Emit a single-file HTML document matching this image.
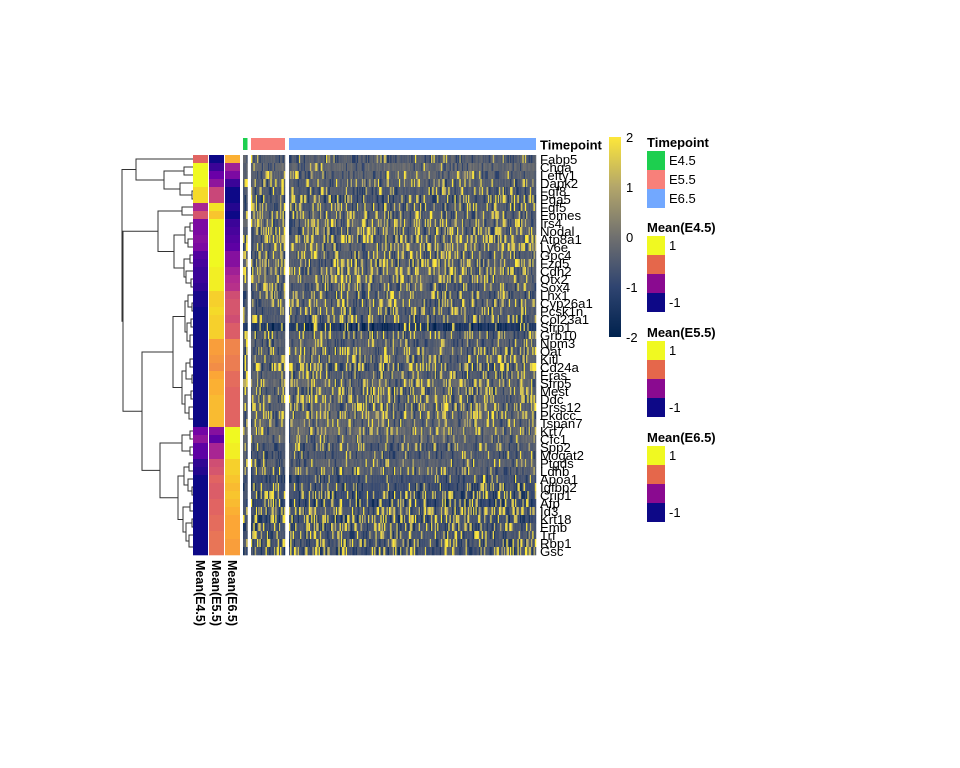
<!DOCTYPE html>
<html><head><meta charset="utf-8">
<style>
html,body{margin:0;padding:0;background:#fff;}
svg{display:block;font-family:"Liberation Sans",Arial,sans-serif;}
</style></head>
<body>
<svg id="chart" width="960" height="768" viewBox="0 0 960 768" xmlns="http://www.w3.org/2000/svg">
<g id="dendro"></g>
<g id="means"></g>
<g id="topbar"></g>
<g id="cells"></g>
<g id="genes"></g>
<text x="540" y="149.5" font-size="13" font-weight="bold">Timepoint</text>
<g font-size="12.5" font-weight="bold">
<text transform="translate(196,560) rotate(90)">Mean(E4.5)</text>
<text transform="translate(212,560) rotate(90)">Mean(E5.5)</text>
<text transform="translate(228,560) rotate(90)">Mean(E6.5)</text>
</g>
<defs><linearGradient id="cbar" x1="0" y1="1" x2="0" y2="0">
<stop offset="0" stop-color="#00224E"/><stop offset="0.25" stop-color="#2F4470"/><stop offset="0.5" stop-color="#70706F"/><stop offset="0.75" stop-color="#B3A66A"/><stop offset="1" stop-color="#FDE73A"/></linearGradient></defs>
<g font-size="13">
<rect x="609" y="137" width="12" height="200" fill="url(#cbar)"/>
<text x="626" y="142">2</text><text x="626" y="192">1</text><text x="626" y="242">0</text><text x="626" y="292">-1</text><text x="626" y="342">-2</text>
</g>
<g font-size="13">
<text x="647" y="147" font-weight="bold">Timepoint</text>
<rect x="647" y="151" width="18" height="19" fill="#1DCF4F"/>
<rect x="647" y="170" width="18" height="19" fill="#F8807A"/>
<rect x="647" y="189" width="18" height="19" fill="#72A8FF"/>
<text x="669" y="165">E4.5</text><text x="669" y="184">E5.5</text><text x="669" y="203">E6.5</text>
</g>
<g id="meanlegends"></g>
</svg>
<script>
// ---- data ----
const genes = ["Fabp5","Chga","Lefty1","Dapk2","Fgf8","Pga5","Fgf5","Eomes","Irs4","Nodal","Atp8a1","Ly6e","Gpc4","Fzd5","Cdh2","Otx2","Sox4","Lhx1","Cyp26a1","Pcsk1n","Col23a1","Sfrp1","Grb10","Npm3","Oat","Kitl","Cd24a","Eras","Sfrp5","Mest","Ddc","Prss12","Pkdcc","Tspan7","Krt7","Cfc1","Spp2","Mogat2","Ptgds","Ldhb","Apoa1","Igfbp2","Crip1","Afp","Id3","Krt18","Emb","Trf","Rbp1","Gsc"];
const meanE45 = [0.2,1,1,1,0.85,0.85,-0.25,0.1,-0.5,-0.5,-0.45,-0.5,-0.7,-0.75,-0.8,-0.8,-0.85,-0.95,-0.95,-1,-1,-1,-1,-1,-1,-1,-1,-1,-1,-1,-1,-1,-1,-1,-0.55,-0.4,-0.65,-0.65,-0.85,-0.9,-1,-1,-1,-1,-1,-1,-1,-1,-1,-1];
const meanE55 = [-1,-0.8,-0.6,-0.4,0.0,0.0,0.9,0.75,1,1,1,1,1,1,0.95,0.95,0.95,0.8,0.8,0.85,0.8,0.8,0.8,0.55,0.55,0.5,0.45,0.6,0.65,0.65,0.7,0.7,0.7,0.7,-0.45,-0.65,-0.25,-0.25,0.05,0.1,0.2,0.15,0.15,0.2,0.2,0.25,0.25,0.3,0.3,0.3];
const meanE65 = [0.65,-0.3,-0.5,-0.8,-1,-1,-0.9,-1,-0.8,-0.75,-0.7,-0.65,-0.45,-0.45,-0.3,-0.2,-0.15,0.05,0.1,0.1,0.05,0.15,0.15,0.4,0.4,0.35,0.35,0.25,0.25,0.2,0.2,0.2,0.2,0.2,1,1,0.95,0.95,0.8,0.8,0.75,0.7,0.75,0.7,0.65,0.6,0.6,0.6,0.55,0.55];
// per-row background expression level and fraction of high (yellow) cells, read approximately
const rowBase = [-0.4,-0.2,-0.3,-0.4,-0.5,-0.6,-0.5,-0.4,-0.3,-0.4,-0.4,-0.3,-0.4,-0.4,-0.3,-0.3,-0.4,-0.5,-0.4,-0.5,-0.5,-1.3,-0.5,-0.4,-0.4,-0.4,-0.5,-0.4,-0.3,-0.4,-0.4,-0.4,-0.3,-0.3,-0.2,-0.3,-0.5,-0.5,-0.4,-0.4,-0.7,-0.7,-0.8,-0.9,-0.5,-0.8,-0.6,-0.6,-0.6,-0.7];
const rowHigh = [0.1,0.05,0.1,0.15,0.15,0.2,0.15,0.25,0.25,0.3,0.3,0.25,0.25,0.3,0.3,0.25,0.2,0.2,0.25,0.2,0.2,0.15,0.2,0.15,0.2,0.2,0.3,0.2,0.25,0.3,0.25,0.25,0.3,0.2,0.15,0.1,0.15,0.1,0.15,0.15,0.1,0.2,0.25,0.15,0.3,0.3,0.25,0.2,0.25,0.2];
const sliceNames = ["E4.5","E5.5","E6.5"];
const sliceCols = [3,28,200];
// ---- layout ----
const NS="http://www.w3.org/2000/svg";
const top0=155, rowH=8;
const rowY = i => top0 + i*rowH;
function mk(tag,attrs,parent){const e=document.createElementNS(NS,tag);for(const k in attrs)e.setAttribute(k,attrs[k]);parent.appendChild(e);return e;}
function lerpHex(a,b,t){const pa=[1,3,5].map(i=>parseInt(a.substr(i,2),16)),pb=[1,3,5].map(i=>parseInt(b.substr(i,2),16));return "rgb("+pa.map((v,i)=>Math.round(v+(pb[i]-v)*t)).join(",")+")";}
function ramp(v,stops,cols){if(v<=stops[0])return cols[0];for(let i=1;i<stops.length;i++){if(v<=stops[i])return lerpHex(cols[i-1],cols[i],(v-stops[i-1])/(stops[i]-stops[i-1]));}return cols[cols.length-1];}
const meanColor = v=>ramp(v,[-1,-0.6,-0.2,0.2,0.6,1],["#0D0887","#6A00A8","#B12A90","#E16462","#FCA636","#F0F921"]);
const exprColor = v=>ramp(v,[-2,-1,0,1,2],["#00224E","#2F4470","#70706F","#B3A66A","#FDE73A"]);
// mean columns
const means=document.getElementById('means');
[meanE45,meanE55,meanE65].forEach((arr,c)=>{
  const x=193+c*16;
  arr.forEach((v,i)=>{
    const r=mk('rect',{x:x,y:rowY(i),width:15,height:rowH+0.3,fill:meanColor(v)},means);
    
    
  });
});
// timepoint bar + body
const sliceX=[243,251,289], sliceW=[4.5,34,247];
const barCols=["#1DCF4F","#F8807A","#72A8FF"];
const topbar=document.getElementById('topbar');
sliceNames.forEach((s,k)=>{
  const r=mk('rect',{x:sliceX[k],y:138,width:sliceW[k],height:12,fill:barCols[k]},topbar);
  
  
});
function h(a,b){let x=(a*374761393+b*668265263)>>>0;x=((x^(x>>>13))*1274126177)>>>0;return ((x^(x>>>16))>>>0)/4294967296;}
const cells=document.getElementById('cells');
sliceNames.forEach((s,k)=>{
  const n=sliceCols[k], w=sliceW[k]/n;
  for(let i=0;i<genes.length;i++){
    for(let j=0;j<n;j++){
      const u=h(i*1000+k*300+j,7), u2=h(j,i+11);
      let v=rowBase[i]+(u2-0.5)*0.5;
      if(u<rowHigh[i]) v=1+u2*1.2; else if(u>0.88) v=rowBase[i]-0.8;
      const r=mk('rect',{x:(sliceX[k]+j*w).toFixed(2),y:rowY(i),width:(w+0.25).toFixed(2),height:rowH+0.3,fill:exprColor(v)},cells);
      
      
    }
  }
});
// gene labels
const gl=document.getElementById('genes');
genes.forEach((g,i)=>{
  const t=mk('text',{x:540,y:rowY(i)+rowH/2+4.8,'font-size':13.2},gl);
  t.textContent=g;
  
  
});
// dendrogram
function N(x,l,r){return {x:x,l:l,r:r};}
const A=N(136,0,N(164,N(184,1,2),N(180,3,N(192,4,5))));
const C=N(174,N(185,N(190,8,9),N(188,10,11)),N(184,N(190,12,13),N(186,14,N(191,15,16))));
const B=N(158,N(182,6,7),C);
const F=N(173,N(185,N(188,17,N(192,18,19)),N(187,N(191,20,21),N(190,22,N(194,23,24)))),N(182,N(186,N(190,25,26),N(192,27,28)),N(185,N(191,29,30),N(189,31,N(194,32,33)))));
const G=N(160,N(182,N(190,34,35),N(190,36,37)),N(178,N(184,N(189,38,39),N(188,40,N(192,41,42))),N(183,N(190,43,44),N(186,N(192,45,46),N(189,47,N(194,48,49))))));
const E=N(142,F,G), D=N(123,B,E), root=N(122,A,D);
const dg=document.getElementById('dendro');
function draw(n){
  if(typeof n==='number') return {x:193,y:rowY(n)+rowH/2};
  const a=draw(n.l), b=draw(n.r);
  const p=mk('path',{d:`M${a.x},${a.y}H${n.x}V${b.y}H${b.x}`,fill:'none',stroke:'#333',"stroke-width":1},dg);
  
  
  return {x:n.x,y:(a.y+b.y)/2};
}
draw(root);
// mean legends
const ml=document.getElementById('meanlegends');
const legTitles=["Mean(E4.5)","Mean(E5.5)","Mean(E6.5)"], legTop=[228,333,438];
const legCols=["#F0F921","#E5674B","#8A0A90","#0D0887"];
legTitles.forEach((t,k)=>{
  const g=mk('g',{'font-size':13},ml);
  
  
  const tt=mk('text',{x:647,y:legTop[k]+4,'font-weight':'bold'},g); tt.textContent=t;
  legCols.forEach((c,i)=>mk('rect',{x:647,y:legTop[k]+8+i*19,width:18,height:19,fill:c},g));
  const a=mk('text',{x:669,y:legTop[k]+22},g); a.textContent="1";
  const b=mk('text',{x:669,y:legTop[k]+79},g); b.textContent="-1";
});
</script>
</body></html>
